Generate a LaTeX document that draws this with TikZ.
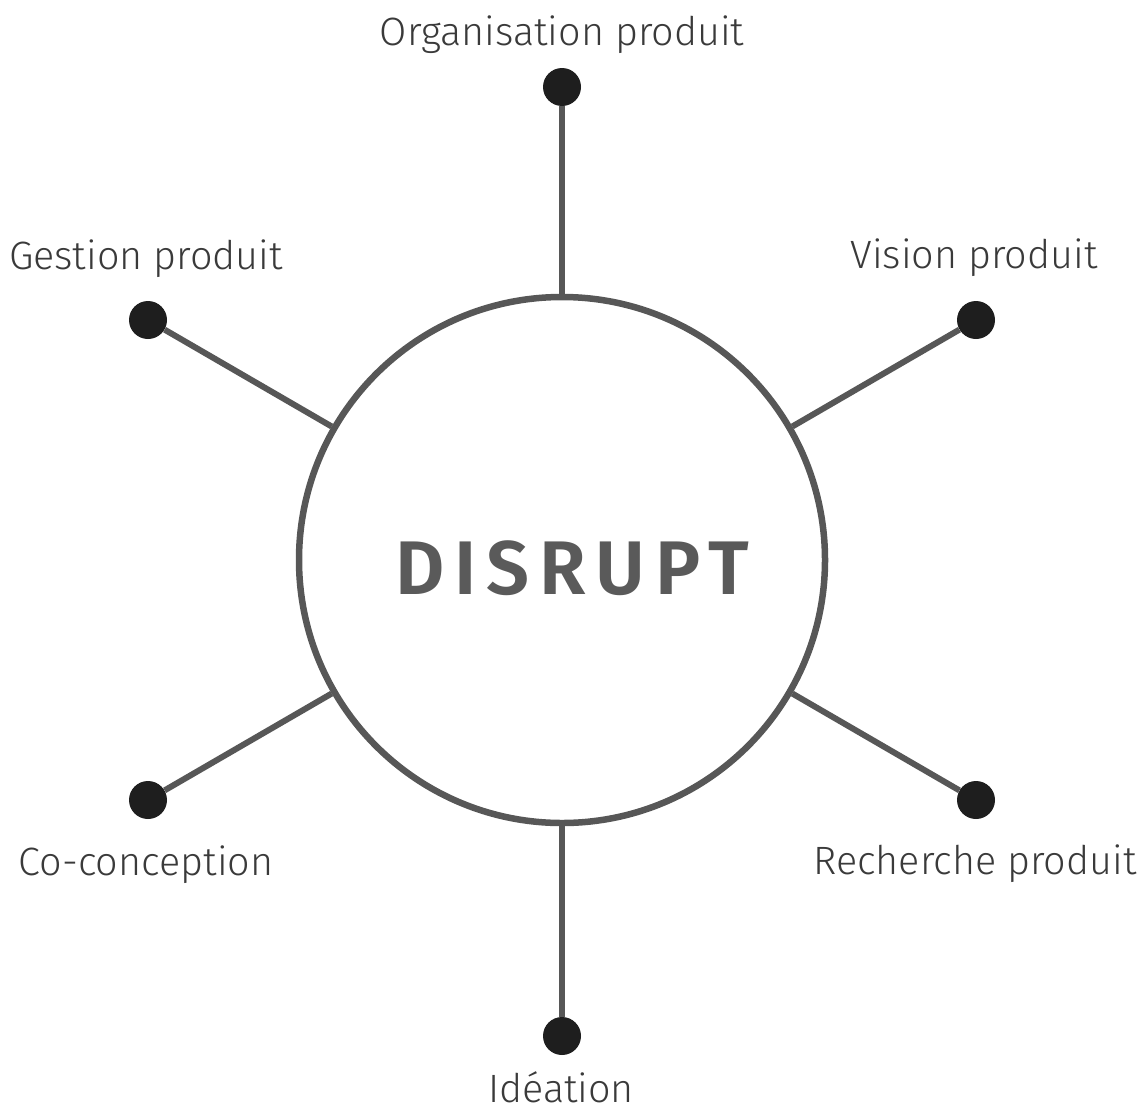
\documentclass[tikz,border=0pt]{standalone}
\usepackage{fontspec}
\setmainfont{Fira Sans Light}
\newfontfamily\titlefont[LetterSpace=13]{Fira Sans SemiBold}
\definecolor{linegray}{HTML}{575757}
\definecolor{dotblack}{HTML}{1E1E1E}
\definecolor{textgray}{HTML}{3A3A3A}
\definecolor{titlegray}{HTML}{5A5A5A}
\begin{document}
\begin{tikzpicture}[x=1pt,y=-1pt,
  hub/.style={circle,draw=linegray,line width=6.5pt,minimum size=526pt,inner sep=0pt},
  endpoint/.style={circle,fill=dotblack,minimum size=38pt,inner sep=0pt},
  spoke/.style={draw=linegray,line width=6pt},
  lbl/.style={anchor=base,inner sep=0pt,text=textgray,font=\fontsize{39.5}{48}\selectfont}]
\useasboundingbox (0,0) rectangle (1147,1111);
\node[hub] (c) at (562,560) {};
\node[anchor=base,inner sep=0pt,text=titlegray,font=\titlefont\fontsize{76}{90}\selectfont] (t) at (572,594) {DISRUPT};
\node[endpoint] (n) at (562,87) {};
\node[endpoint] (nw) at (148,320) {};
\node[endpoint] (ne) at (976,320) {};
\node[endpoint] (sw) at (148,800) {};
\node[endpoint] (se) at (976,800) {};
\node[endpoint] (s) at (562,1036) {};
\draw[spoke] (n) -- (c);
\draw[spoke] (nw) -- (c);
\draw[spoke] (ne) -- (c);
\draw[spoke] (sw) -- (c);
\draw[spoke] (se) -- (c);
\draw[spoke] (s) -- (c);
\node[lbl] (ln) at (562,45) {Organisation produit};
\node[lbl] (lnw) at (146,269) {Gestion produit};
\node[lbl] (lne) at (974,268) {Vision produit};
\node[lbl] (lsw) at (146,875) {Co-conception};
\node[lbl] (lse) at (975,874) {Recherche produit};
\node[lbl,text depth=0pt] (ls) at (561,1102) {Idéation};
\end{tikzpicture}
\end{document}
